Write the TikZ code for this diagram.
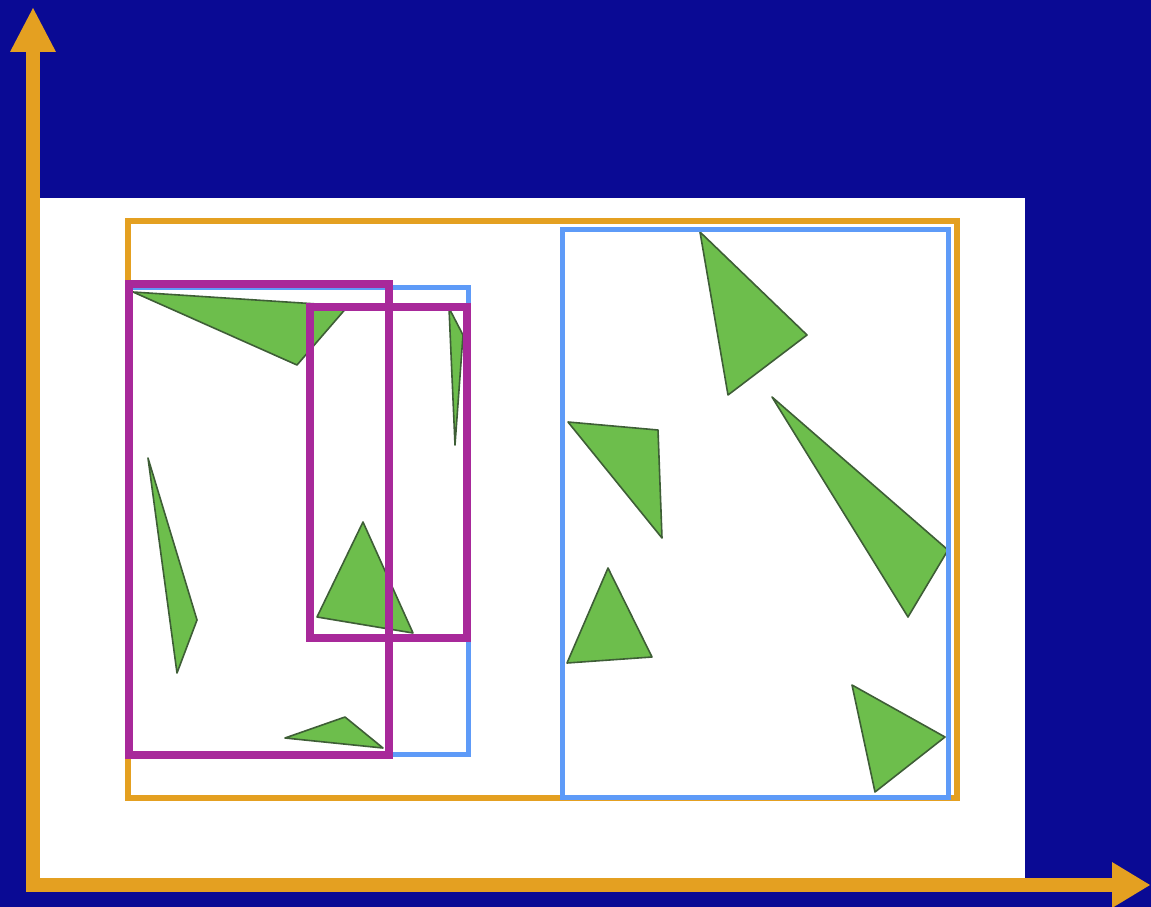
\documentclass[tikz,border=0pt]{standalone}
\usetikzlibrary{calc}
\definecolor{bgblue}{HTML}{0A0A94}
\definecolor{axisorange}{HTML}{E4A021}
\definecolor{boxblue}{HTML}{5E9BF8}
\definecolor{boxmag}{HTML}{A8299A}
\definecolor{trigreen}{HTML}{6DBE4C}
\definecolor{triedge}{HTML}{3E5E36}
\tikzset{
  tri/.style={fill=trigreen, draw=triedge, line width=1.6pt, line join=round},
  orangebox/.style={draw=axisorange, line width=6pt},
  bluebox/.style={draw=boxblue, line width=5pt},
  magbox/.style={draw=boxmag, line width=8pt},
  axisline/.style={draw=axisorange, line width=14pt},
  axishead/.style={fill=axisorange},
}
\begin{document}
\begin{tikzpicture}[x=1pt,y=-1pt]
\useasboundingbox (0,0) rectangle (1151,907);
\fill[bgblue] (0,0) rectangle (1151,907);
% white panel
\fill[white] (38,198) rectangle (1025,880);
% outer orange box
\draw[orangebox] (128,221) rectangle (957,798);
% triangles
\draw[tri] (133,292) -- (348,306) -- (297,365) -- cycle;
\draw[tri] (449,308) -- (463,335) -- (455,445) -- cycle;
\draw[tri] (148,458) -- (197,620) -- (177,673) -- cycle;
\draw[tri] (363,522) -- (413,633) -- (317,617) -- cycle;
\draw[tri] (285,738) -- (345,717) -- (383,748) -- cycle;
\draw[tri] (700,232) -- (807,335) -- (728,395) -- cycle;
\draw[tri] (772,397) -- (948,550) -- (908,617) -- cycle;
\draw[tri] (568,422) -- (658,430) -- (662,538) -- cycle;
\draw[tri] (608,568) -- (652,657) -- (567,663) -- cycle;
\draw[tri] (852,685) -- (945,737) -- (875,792) -- cycle;
% blue boxes
\draw[bluebox] (130,287) rectangle (468,754);
\draw[bluebox] (562,229) rectangle (948,797);
% magenta boxes
\draw[magbox] (129,284) rectangle (389,755);
\draw[magbox] (310,307) rectangle (467,638);
% axes
\coordinate (origin) at (33,885);
\coordinate (ytip) at (33,8);
\coordinate (xtip) at (1150,885);
\draw[axisline] (33,892) -- (33,50);
\draw[axisline] (26,885) -- (1114,885);
\fill[axishead] (10,52) -- (56,52) -- (ytip) -- cycle;
\fill[axishead] (1112,862) -- (1112,908) -- (xtip) -- cycle;
\end{tikzpicture}
\end{document}
